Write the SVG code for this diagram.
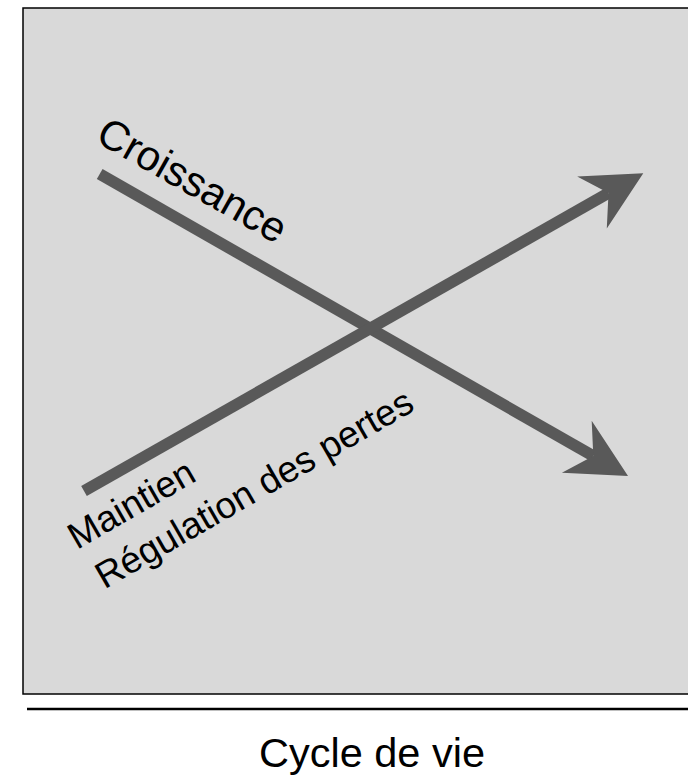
<svg xmlns="http://www.w3.org/2000/svg" width="688" height="779" viewBox="0 0 688 779">
<style>
.lbl{font-family:"Liberation Sans",Arial,sans-serif;fill:#000}
.arr{stroke:#595959;stroke-width:11.5;fill:none;marker-end:url(#head)}
</style>
<defs>
<marker id="head" markerUnits="userSpaceOnUse" viewBox="-61 -32 62 64" markerWidth="62" markerHeight="64" refX="-40" refY="0" orient="auto">
<path d="M0,0 L-59,-30 L-40,0 L-59,30 Z" fill="#595959"/>
</marker>
</defs>
<rect x="0" y="0" width="688" height="779" fill="#fff"/>
<g id="frame">
<rect x="23" y="8" width="700" height="686" fill="#d9d9d9" stroke="#000" stroke-width="1.5"/>
</g>
<g id="connectors">
<line class="arr" x1="99.7" y1="174" x2="593.3" y2="456.1"/>
<line class="arr" x1="84" y1="491" x2="608.5" y2="193.1"/>
</g>
<g id="croissance">
<text class="lbl" font-size="42" transform="translate(94,141) rotate(29.5)">Croissance</text>
</g>
<g id="maintien">
<text class="lbl" font-size="37" transform="translate(77,550) rotate(-30)"><tspan x="0" y="0">Maintien</tspan><tspan x="4" y="48">Régulation des pertes</tspan></text>
</g>
<g id="axis">
<line x1="27" y1="709" x2="688" y2="709" stroke="#000" stroke-width="2.5"/>
<text class="lbl" font-size="41.5" x="372" y="767" text-anchor="middle">Cycle de vie</text>
</g>
</svg>
